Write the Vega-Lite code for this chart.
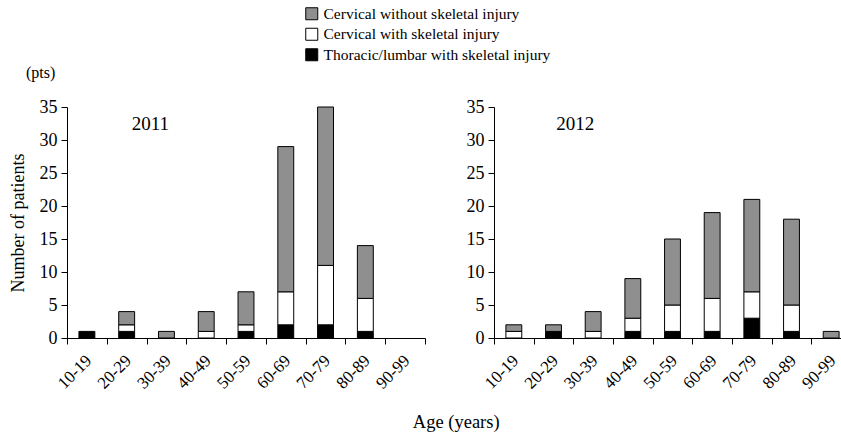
{
  "$schema": "https://vega.github.io/schema/vega-lite/v6.json",
  "background": "white",
  "padding": {"left": 9, "top": 6, "right": -8, "bottom": 2},
  "datasets": {
    "d": [
      {"year": 2011, "age": "10-19", "type": "Thoracic/lumbar with skeletal injury", "k": 1, "n": 1},
      {"year": 2011, "age": "20-29", "type": "Thoracic/lumbar with skeletal injury", "k": 1, "n": 1},
      {"year": 2011, "age": "20-29", "type": "Cervical with skeletal injury", "k": 2, "n": 1},
      {"year": 2011, "age": "20-29", "type": "Cervical without skeletal injury", "k": 3, "n": 2},
      {"year": 2011, "age": "30-39", "type": "Cervical without skeletal injury", "k": 3, "n": 1},
      {"year": 2011, "age": "40-49", "type": "Cervical with skeletal injury", "k": 2, "n": 1},
      {"year": 2011, "age": "40-49", "type": "Cervical without skeletal injury", "k": 3, "n": 3},
      {"year": 2011, "age": "50-59", "type": "Thoracic/lumbar with skeletal injury", "k": 1, "n": 1},
      {"year": 2011, "age": "50-59", "type": "Cervical with skeletal injury", "k": 2, "n": 1},
      {"year": 2011, "age": "50-59", "type": "Cervical without skeletal injury", "k": 3, "n": 5},
      {"year": 2011, "age": "60-69", "type": "Thoracic/lumbar with skeletal injury", "k": 1, "n": 2},
      {"year": 2011, "age": "60-69", "type": "Cervical with skeletal injury", "k": 2, "n": 5},
      {"year": 2011, "age": "60-69", "type": "Cervical without skeletal injury", "k": 3, "n": 22},
      {"year": 2011, "age": "70-79", "type": "Thoracic/lumbar with skeletal injury", "k": 1, "n": 2},
      {"year": 2011, "age": "70-79", "type": "Cervical with skeletal injury", "k": 2, "n": 9},
      {"year": 2011, "age": "70-79", "type": "Cervical without skeletal injury", "k": 3, "n": 24},
      {"year": 2011, "age": "80-89", "type": "Thoracic/lumbar with skeletal injury", "k": 1, "n": 1},
      {"year": 2011, "age": "80-89", "type": "Cervical with skeletal injury", "k": 2, "n": 5},
      {"year": 2011, "age": "80-89", "type": "Cervical without skeletal injury", "k": 3, "n": 8},
      {"year": 2012, "age": "10-19", "type": "Cervical with skeletal injury", "k": 2, "n": 1},
      {"year": 2012, "age": "10-19", "type": "Cervical without skeletal injury", "k": 3, "n": 1},
      {"year": 2012, "age": "20-29", "type": "Thoracic/lumbar with skeletal injury", "k": 1, "n": 1},
      {"year": 2012, "age": "20-29", "type": "Cervical without skeletal injury", "k": 3, "n": 1},
      {"year": 2012, "age": "30-39", "type": "Cervical with skeletal injury", "k": 2, "n": 1},
      {"year": 2012, "age": "30-39", "type": "Cervical without skeletal injury", "k": 3, "n": 3},
      {"year": 2012, "age": "40-49", "type": "Thoracic/lumbar with skeletal injury", "k": 1, "n": 1},
      {"year": 2012, "age": "40-49", "type": "Cervical with skeletal injury", "k": 2, "n": 2},
      {"year": 2012, "age": "40-49", "type": "Cervical without skeletal injury", "k": 3, "n": 6},
      {"year": 2012, "age": "50-59", "type": "Thoracic/lumbar with skeletal injury", "k": 1, "n": 1},
      {"year": 2012, "age": "50-59", "type": "Cervical with skeletal injury", "k": 2, "n": 4},
      {"year": 2012, "age": "50-59", "type": "Cervical without skeletal injury", "k": 3, "n": 10},
      {"year": 2012, "age": "60-69", "type": "Thoracic/lumbar with skeletal injury", "k": 1, "n": 1},
      {"year": 2012, "age": "60-69", "type": "Cervical with skeletal injury", "k": 2, "n": 5},
      {"year": 2012, "age": "60-69", "type": "Cervical without skeletal injury", "k": 3, "n": 13},
      {"year": 2012, "age": "70-79", "type": "Thoracic/lumbar with skeletal injury", "k": 1, "n": 3},
      {"year": 2012, "age": "70-79", "type": "Cervical with skeletal injury", "k": 2, "n": 4},
      {"year": 2012, "age": "70-79", "type": "Cervical without skeletal injury", "k": 3, "n": 14},
      {"year": 2012, "age": "80-89", "type": "Thoracic/lumbar with skeletal injury", "k": 1, "n": 1},
      {"year": 2012, "age": "80-89", "type": "Cervical with skeletal injury", "k": 2, "n": 4},
      {"year": 2012, "age": "80-89", "type": "Cervical without skeletal injury", "k": 3, "n": 13},
      {"year": 2012, "age": "90-99", "type": "Cervical without skeletal injury", "k": 3, "n": 1}
    ]
  },
  "title": {
    "text": "Age (years)",
    "orient": "bottom",
    "anchor": "middle",
    "font": "Liberation Serif",
    "fontSize": 18.5,
    "fontWeight": "normal",
    "color": "black",
    "offset": 22,
    "dx": 26
  },
  "config": {
    "view": {"stroke": null},
    "font": "Liberation Serif",
    "axis": {
      "domainColor": "black",
      "tickColor": "black",
      "labelColor": "black",
      "titleColor": "black",
      "labelFont": "Liberation Serif",
      "titleFont": "Liberation Serif",
      "titleFontWeight": "normal",
      "grid": false,
      "tickSize": 6,
      "labelOverlap": false
    },
    "legend": {
      "labelFont": "Liberation Serif",
      "labelFontSize": 15.5,
      "labelColor": "black",
      "labelLimit": 0,
      "symbolType": "square",
      "symbolSize": 144,
      "symbolStrokeColor": "black",
      "symbolStrokeWidth": 1,
      "symbolOpacity": 1
    }
  },
  "spacing": 40,
  "hconcat": [
    {
      "width": 358,
      "height": 231,
      "title": {"text": "(pts)", "anchor": "start", "frame": "group", "dx": -41, "fontSize": 16, "fontWeight": "normal", "color": "black", "font": "Liberation Serif", "offset": 17},
      "layer": [
        {
          "data": {"name": "d"},
          "transform": [{"filter": "datum.year == 2011"}],
          "mark": {"type": "bar", "stroke": "black", "strokeWidth": 1, "width": {"band": 0.4}},
          "encoding": {
            "x": {"field": "age", "type": "nominal", "scale": {"domain": ["10-19","20-29","30-39","40-49","50-59","60-69","70-79","80-89","90-99"], "paddingInner": 0, "paddingOuter": 0},
              "axis": {"title": null, "labelAngle": -45, "labelFontSize": 17, "tickBand": "extent", "labelPadding": 8, "labelOffset": -4}},
            "y": {"field": "n", "type": "quantitative", "aggregate": "sum", "stack": "zero", "scale": {"domain": [0, 35]},
              "axis": {"title": "Number of patients", "values": [0,5,10,15,20,25,30,35], "labelFontSize": 18, "titleFontSize": 18, "titlePadding": 12, "labelPadding": 4}},
            "color": {"field": "type", "type": "nominal",
              "scale": {"domain": ["Cervical without skeletal injury", "Cervical with skeletal injury", "Thoracic/lumbar with skeletal injury"], "range": ["#8f8f8f", "#ffffff", "#000000"]},
              "legend": {"title": null, "orient": "none", "legendX": 237, "legendY": -101, "direction": "vertical", "rowPadding": 2.5}},
            "order": {"field": "k", "type": "quantitative", "sort": "ascending"}
          }
        },
        {
          "data": {"values": [{"lab": "2011"}]},
          "mark": {"type": "text", "fontSize": 19, "color": "black", "font": "Liberation Serif", "dx": -16},
          "encoding": {
            "x": {"datum": "30-39", "type": "nominal", "axis": {"title": null, "labelAngle": -45, "labelFontSize": 17, "tickBand": "extent", "labelPadding": 8, "labelOffset": -4}},
            "y": {"datum": 32.5, "type": "quantitative", "axis": {"title": "Number of patients", "values": [0,5,10,15,20,25,30,35], "labelFontSize": 18, "titleFontSize": 18, "titlePadding": 12, "labelPadding": 4}},
            "text": {"field": "lab"}
          }
        }
      ]
    },
    {
      "width": 357,
      "height": 231,
      "layer": [
        {
          "data": {"name": "d"},
          "transform": [{"filter": "datum.year == 2012"}],
          "mark": {"type": "bar", "stroke": "black", "strokeWidth": 1, "width": {"band": 0.4}},
          "encoding": {
            "x": {"field": "age", "type": "nominal", "scale": {"domain": ["10-19","20-29","30-39","40-49","50-59","60-69","70-79","80-89","90-99"], "paddingInner": 0, "paddingOuter": 0},
              "axis": {"title": null, "labelAngle": -45, "labelFontSize": 17, "tickBand": "extent", "labelPadding": 8, "labelOffset": -4}},
            "y": {"field": "n", "type": "quantitative", "aggregate": "sum", "stack": "zero", "scale": {"domain": [0, 35]},
              "axis": {"title": null, "values": [0,5,10,15,20,25,30,35], "labelFontSize": 18, "labelPadding": 4}},
            "color": {"field": "type", "type": "nominal"},
            "order": {"field": "k", "type": "quantitative", "sort": "ascending"}
          }
        },
        {
          "data": {"values": [{"lab": "2012"}]},
          "mark": {"type": "text", "fontSize": 19, "color": "black", "font": "Liberation Serif", "dx": -18},
          "encoding": {
            "x": {"datum": "30-39", "type": "nominal", "axis": {"title": null, "labelAngle": -45, "labelFontSize": 17, "tickBand": "extent", "labelPadding": 8, "labelOffset": -4}},
            "y": {"datum": 32.5, "type": "quantitative", "axis": {"title": null, "values": [0,5,10,15,20,25,30,35], "labelFontSize": 18, "labelPadding": 4}},
            "text": {"field": "lab"}
          }
        }
      ]
    }
  ]
}
